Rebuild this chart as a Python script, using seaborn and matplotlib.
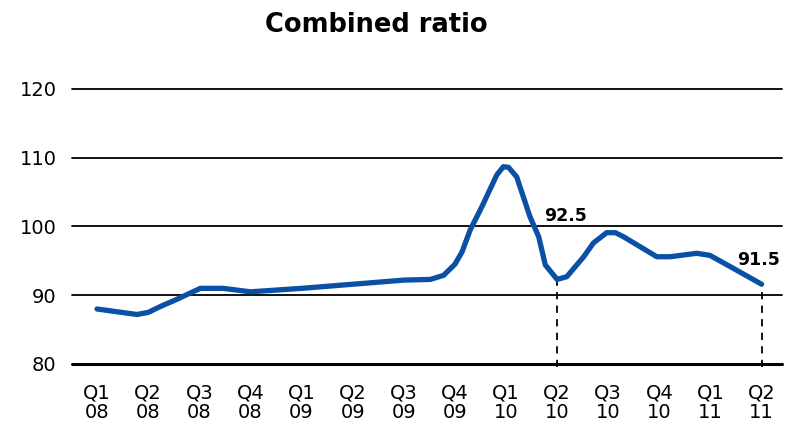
import pandas as pd
import matplotlib
matplotlib.use("Agg")
import matplotlib.pyplot as plt
import seaborn as sns

# quarter labels (Q1 08 .. Q2 11)
quarters = ["Q1\n08", "Q2\n08", "Q3\n08", "Q4\n08", "Q1\n09", "Q2\n09", "Q3\n09",
            "Q4\n09", "Q1\n10", "Q2\n10", "Q3\n10", "Q4\n10", "Q1\n11", "Q2\n11"]

# curve (x in quarter index)
pos = [0.0, 0.78, 1.0, 1.25, 1.53, 2.02, 2.47, 3.0, 4.0, 5.0, 6.0, 6.52, 6.78,
       7.0, 7.14, 7.3, 7.53, 7.82, 7.95, 8.05, 8.21, 8.47, 8.64, 8.77, 9.0,
       9.19, 9.52, 9.71, 9.97, 10.14, 10.3, 10.95, 11.21, 11.73, 11.99, 12.45, 13.0]
ratio = [88.0, 87.2, 87.5, 88.4, 89.3, 91.0, 91.0, 90.5, 91.0, 91.6, 92.2, 92.3, 92.9,
         94.5, 96.3, 99.5, 102.9, 107.5, 108.7, 108.6, 107.2, 101.4, 98.5, 94.4, 92.3,
         92.7, 95.6, 97.6, 99.1, 99.1, 98.5, 95.6, 95.6, 96.1, 95.8, 93.9, 91.6]

# highlighted points
mark_pos = [9, 13]
mark_val = [92.3, 91.6]
mark_txt = ["92.5", "91.5"]

df = pd.DataFrame({"q": pos, "ratio": ratio})

sns.set_style("white")
plt.rcParams["font.family"] = ["DejaVu Sans"]
plt.rcParams["text.color"] = "black"
plt.rcParams["xtick.color"] = "black"
plt.rcParams["ytick.color"] = "black"

fig = plt.figure(figsize=(7.98, 4.34), dpi=100)
ax = fig.add_axes([0.0902, 0.1613, 0.8898, 0.6337])

for y in [90, 100, 110, 120]:
    ax.axhline(y, color="black", lw=1.3, zorder=1, clip_on=False)
ax.axhline(80, color="black", lw=2.2, zorder=1, clip_on=False)

sns.lineplot(data=df, x="q", y="ratio", sort=False, color="#0a51a5",
             lw=3.8, ax=ax, zorder=3)
ax.lines[-1].set_solid_joinstyle("round")
ax.lines[-1].set_solid_capstyle("round")

for p, v, t in zip(mark_pos, mark_val, mark_txt):
    ax.plot([p, p], [79.6, v], color="black", lw=1.3, ls=(0, (4, 3.5)),
            zorder=2, clip_on=False)
ax.text(mark_pos[0] + 0.17, 101.5, mark_txt[0], ha="center", va="center",
        fontsize=12.5, fontweight="bold")
ax.text(mark_pos[1] - 0.05, 95.1, mark_txt[1], ha="center", va="center",
        fontsize=12.5, fontweight="bold")

ax.set_xlim(-0.49, 13.4)
ax.set_ylim(80, 120)
ax.set_yticks([80, 90, 100, 110, 120])
ax.set_xticks(range(len(quarters)))
ax.set_xticklabels(quarters, fontsize=14, linespacing=1.05)
ax.tick_params(axis="y", labelsize=14, length=0, pad=11)
ax.tick_params(axis="x", length=0, pad=14)
ax.set_xlabel("")
ax.set_ylabel("")
for s in ax.spines.values():
    s.set_visible(False)

fig.text(0.472, 0.942, "Combined ratio", ha="center", va="center",
         fontsize=18.5, fontweight="bold")

fig.savefig("out.png", dpi=100)
